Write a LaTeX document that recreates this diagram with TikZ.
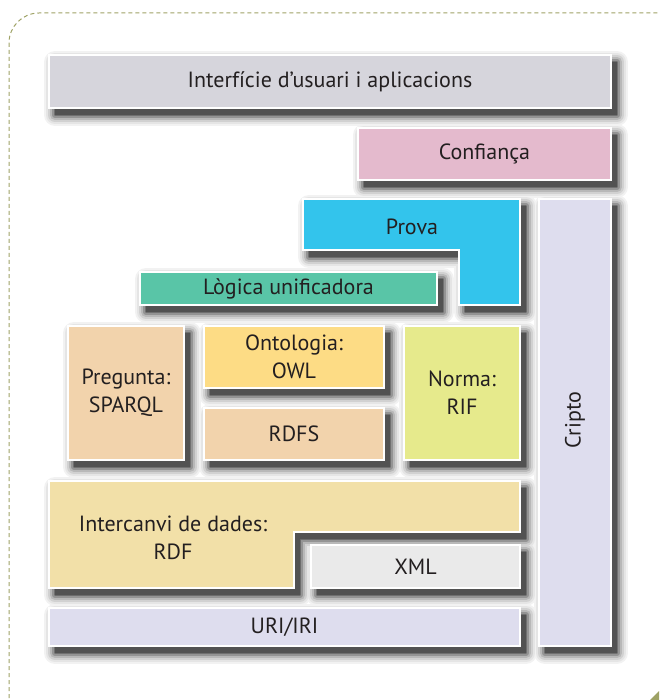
\documentclass[tikz,border=0pt]{standalone}
\usepackage{fontspec}
\setmainfont{PT Sans}
\definecolor{txt}{HTML}{231F20}
\definecolor{frame}{HTML}{9EA265}
\definecolor{cInt}{HTML}{D6D5DC}
\definecolor{cConf}{HTML}{E4BACD}
\definecolor{cProva}{HTML}{33C4EC}
\definecolor{cCripto}{HTML}{DEDDEE}
\definecolor{cLog}{HTML}{59C5A7}
\definecolor{cPreg}{HTML}{F2D3AC}
\definecolor{cOnt}{HTML}{FDDC85}
\definecolor{cNorma}{HTML}{E6EA8C}
\definecolor{cRDF}{HTML}{F2E0A8}
\definecolor{cXML}{HTML}{EAEAEA}
\newcommand\provapath{(303,199) -- (520,199) -- (520,305) -- (459,305) -- (459,250) -- (303,250) -- cycle}
\newcommand\rdfpath{(49,481) -- (520,481) -- (520,532) -- (294,532) -- (294,588) -- (49,588) -- cycle}
\newcommand\allshapes[1]{%
  \path[#1] (49,55) rectangle (611,108);
  \path[#1] (358,128) rectangle (611,180);
  \path[#1] \provapath;
  \path[#1] (539,199) rectangle (611,646);
  \path[#1] (140,272) rectangle (437,305);
  \path[#1] (68,326) rectangle (184,460);
  \path[#1] (204,326) rectangle (384,388);
  \path[#1] (204,408) rectangle (384,460);
  \path[#1] (404,326) rectangle (520,460);
  \path[#1] \rdfpath;
  \path[#1] (311,545) rectangle (520,588);
  \path[#1] (49,608) rectangle (520,646);
}
\begin{document}
\begin{tikzpicture}[x=1pt,y=-1pt,
  shade box/.style={draw=white, line width=1.2pt},
  box/.style={shade box, rectangle, inner sep=0pt, text=txt, align=center,
    font=\fontsize{22}{28}\selectfont},
  lbl/.style={inner sep=0pt, text=txt, align=center, font=\fontsize{22}{28}\selectfont}]
\useasboundingbox (0,0) rectangle (659,700);
\begin{scope}
\clip (0,0) rectangle (659,700);
\draw[frame, line width=1pt, dash pattern=on 4pt off 3pt, rounded corners=30pt] (9,13) rectangle (690,730);
\fill[frame] (650,700) -- (659,691) -- (659,700) -- cycle;
\end{scope}
% soft drop shadows, built from rings of grey
\foreach \w/\c in {22/5, 18/10, 14/18, 10/28, 6/42, 2/56}{
  \allshapes{draw=black!\c, line width=\w pt, line join=round, shift={(6,7)}}
}
\allshapes{fill=black!68, shift={(6,7)}}
% boxes
\node[box, fill=cInt, minimum width=562pt, minimum height=53pt] (interficie) at (330,81.5) {Interfície d'usuari i aplicacions};
\node[box, fill=cConf, minimum width=253pt, minimum height=52pt] (confianca) at (484.5,154) {Confiança};
\path[shade box, fill=cProva] \provapath;
\node[lbl] (prova) at (412,227) {Prova};
\node[box, fill=cCripto, minimum width=72pt, minimum height=447pt] (cripto) at (575,422.5) {};
\node[lbl, rotate=90] (criptolbl) at (575,420) {Cripto};
\node[box, fill=cLog, minimum width=297pt, minimum height=33pt] (logica) at (288.5,288.5) {Lògica unificadora};
\node[box, fill=cPreg, minimum width=116pt, minimum height=134pt] (pregunta) at (126,393) {Pregunta:\\SPARQL};
\node[box, fill=cOnt, minimum width=180pt, minimum height=62pt] (ontologia) at (294,357) {Ontologia:\\OWL};
\node[box, fill=cPreg, minimum width=180pt, minimum height=52pt] (rdfs) at (294,434) {RDFS};
\node[box, fill=cNorma, minimum width=116pt, minimum height=134pt] (norma) at (462,393) {Norma:\\RIF};
\path[shade box, fill=cRDF] \rdfpath;
\node[lbl] (intercanvi) at (173,538) {Intercanvi de dades:\\RDF};
\node[box, fill=cXML, minimum width=209pt, minimum height=43pt] (xml) at (415.5,566.5) {XML};
\node[box, fill=cCripto, minimum width=471pt, minimum height=38pt] (uri) at (284.5,627) {URI/IRI};
\end{tikzpicture}
\end{document}
